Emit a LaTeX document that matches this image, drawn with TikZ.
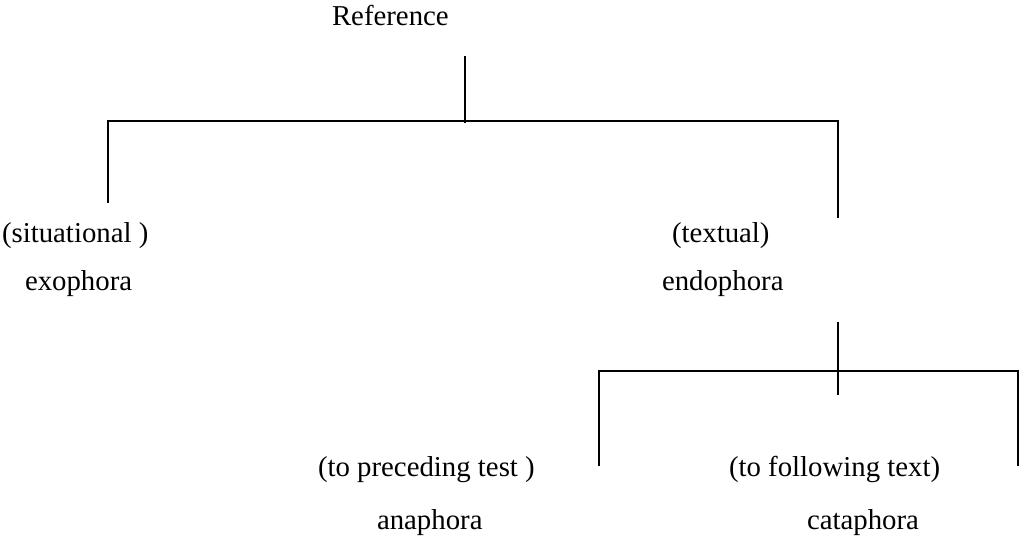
\documentclass[tikz,border=0pt]{standalone}
\usepackage{fontspec}
\setmainfont{Liberation Serif}
\begin{document}
\begin{tikzpicture}[x=1pt,y=-1pt,
  lbl/.style={inner sep=0pt,outer sep=0pt,anchor=base west,font=\fontsize{28.8}{34}\selectfont},
  conn/.style={line width=2pt,line cap=rect}]
\useasboundingbox (0,0) rectangle (1020,539);
% text nodes
\node[lbl] (ref) at (332,25) {Reference};
\node[lbl] (sit) at (2,242) {(situational )};
\node[lbl] (exo) at (25,290) {exophora};
\node[lbl] (tex) at (672,242) {(textual)};
\node[lbl] (endo) at (662,290) {endophora};
\node[lbl] (pre) at (318,476) {(to preceding test )};
\node[lbl] (ana) at (377,529) {anaphora};
\node[lbl] (fol) at (729,476) {(to following text)};
\node[lbl] (cata) at (807,529) {cataphora};
% junction coordinates
\coordinate (rtop) at (464.5,57);
\coordinate (rmid) at (464.5,122);
\coordinate (hl) at (108,121);
\coordinate (hr) at (837.5,121);
\coordinate (exoend) at (108,202);
\coordinate (endoend) at (837.5,217);
\coordinate (etop) at (837.5,323);
\coordinate (emid) at (837.5,371);
\coordinate (ebot) at (837.5,394);
\coordinate (ll) at (599,371);
\coordinate (lr) at (1018,371);
\coordinate (anaend) at (599,465);
\coordinate (cataend) at (1018,465);
% connectors
\draw[conn] (rtop) -- (rmid);
\draw[conn] (exoend) -- (hl) -- (hr) -- (endoend);
\draw[conn] (etop) -- (ebot);
\draw[conn] (anaend) -- (ll) -- (lr) -- (cataend);
\end{tikzpicture}
\end{document}
